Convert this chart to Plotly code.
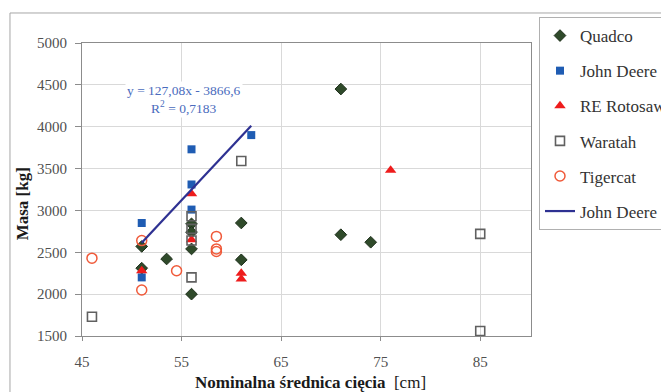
import plotly.graph_objects as go

# ---- data ----
quadco_x = [51, 51, 53.5, 56, 56, 56, 56, 61, 61, 71, 71, 74]
quadco_y = [2570, 2310, 2420, 2840, 2740, 2540, 2000, 2850, 2410, 4450, 2710, 2620]

jd_x = [51, 51, 56, 56, 56, 62]
jd_y = [2850, 2200, 3730, 3310, 3010, 3900]

rot_x = [51, 56, 56, 61, 61, 76]
rot_y = [2280, 3200, 2650, 2250, 2180, 3480]

war_x = [46, 56, 56, 56, 56, 61, 85, 85]
war_y = [1730, 2930, 2780, 2640, 2200, 3590, 2720, 1560]

tig_x = [46, 51, 51, 54.5, 58.5, 58.5, 58.5]
tig_y = [2430, 2640, 2050, 2280, 2690, 2540, 2510]

trend_slope = 127.08
trend_intercept = -3866.6
trend_label = "y = 127,08x - 3866,6<br>R<sup>2</sup> = 0,7183"

x_ticks = [45, 55, 65, 75, 85]
y_ticks = [1500, 2000, 2500, 3000, 3500, 4000, 4500, 5000]

trend_x = [min(jd_x), max(jd_x)]
trend_y = [trend_slope * v + trend_intercept for v in trend_x]

SERIF = "Liberation Serif"

fig = go.Figure()
fig.add_trace(go.Scatter(x=quadco_x, y=quadco_y, mode="markers", name="Quadco", legendgroup="a",
                         marker=dict(symbol="diamond", size=9, color="#2f4a2a",
                                     line=dict(color="#1f301c", width=1))))
fig.add_trace(go.Scatter(x=jd_x, y=jd_y, mode="markers", name="John Deere", legendgroup="b",
                         marker=dict(symbol="square", size=8, color="#1f5cb3",
                                     line=dict(color="#1f5cb3", width=0))))
fig.add_trace(go.Scatter(x=rot_x, y=rot_y, mode="markers", name="RE Rotosaw", legendgroup="c",
                         marker=dict(symbol="triangle-up", size=10, color="#ee1c1c",
                                     line=dict(width=0))))
fig.add_trace(go.Scatter(x=war_x, y=war_y, mode="markers", name="Waratah", legendgroup="d",
                         marker=dict(symbol="square-open", size=9, color="#606060",
                                     line=dict(color="#606060", width=1.6))))
fig.add_trace(go.Scatter(x=tig_x, y=tig_y, mode="markers", name="Tigercat", legendgroup="e",
                         marker=dict(symbol="circle-open", size=10, color="#f05a3a",
                                     line=dict(color="#f05a3a", width=1.5))))
fig.add_trace(go.Scatter(x=trend_x, y=trend_y, mode="lines", name="John Deere", legendgroup="f",
                         line=dict(color="#2e3192", width=2.2)))

fig.add_annotation(x=55.2, y=4325, xref="x", yref="y", text=trend_label, showarrow=False,
                   xanchor="center", yanchor="middle",
                   font=dict(family=SERIF, size=13.5, color="#4a6bbd"), bgcolor="white",
                   align="center")

# axis titles
fig.add_annotation(x=-0.1325, y=0.451, xref="paper", yref="paper", text="<b>Masa [kg]</b>",
                   textangle=-90, showarrow=False, xanchor="center", yanchor="middle",
                   font=dict(family=SERIF, size=17, color="#1a1a1a"))
fig.add_annotation(x=0.508, y=-0.157, xref="paper", yref="paper",
                   text="<b>Nominalna średnica cięcia</b>  [cm]", showarrow=False,
                   xanchor="center", yanchor="middle",
                   font=dict(family=SERIF, size=17, color="#1a1a1a"))

# outer chart frame
fig.add_shape(type="line", xref="paper", yref="paper", x0=-0.1604, x1=1.4, y0=1.1024, y1=1.1024,
              line=dict(color="#a6a6a6", width=1))
fig.add_shape(type="line", xref="paper", yref="paper", x0=-0.1604, x1=-0.1604, y0=1.1024, y1=-0.3,
              line=dict(color="#a6a6a6", width=1))

fig.update_layout(
    width=661, height=392,
    margin=dict(l=82, r=130, t=43, b=56, autoexpand=False),
    paper_bgcolor="white", plot_bgcolor="white",
    font=dict(family=SERIF, size=15, color="#404040"),
    showlegend=True,
    legend=dict(x=1.0178, y=1.0887, xanchor="left", yanchor="top",
                bordercolor="#b0b0b0", borderwidth=1, bgcolor="white", maxheight=380,
                tracegroupgap=10, font=dict(family=SERIF, size=17, color="#333333")),
    xaxis=dict(range=[45, 90.1], tickvals=x_ticks, showgrid=True, gridcolor="#d9d9d9",
               gridwidth=1, zeroline=False, showline=True, linecolor="#8c8c8c", mirror=True,
               ticks="outside", ticklen=4, tickcolor="#8c8c8c", ticklabelstandoff=8,
               tickfont=dict(family=SERIF, size=15, color="#505050")),
    yaxis=dict(range=[1500, 5000], tickvals=y_ticks, showgrid=True, gridcolor="#d9d9d9",
               gridwidth=1, zeroline=False, showline=True, linecolor="#8c8c8c", mirror=True,
               ticks="outside", ticklen=6, tickcolor="#8c8c8c", ticklabelstandoff=5,
               tickfont=dict(family=SERIF, size=15, color="#505050")),
)

fig.write_html("out.html")
